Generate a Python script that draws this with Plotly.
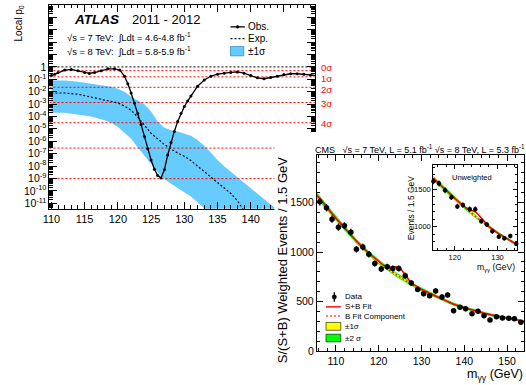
import math
import plotly.graph_objects as go

FONT = "Liberation Sans, Arial, sans-serif"
W, H = 526, 385

# ---------------- ATLAS local p0 panel ----------------
atlas_obs_mass = [110.0, 110.5, 111.0, 112.0, 113.0, 114.0, 115.0, 115.7, 116.5, 117.5, 118.5, 119.5,
                  120.3, 121.0, 121.5, 122.0, 122.5, 123.0, 123.5, 124.0, 124.5, 125.0, 125.5, 126.0,
                  126.5, 127.0, 127.5, 128.0, 128.5, 129.0, 129.5, 130.0, 130.5, 131.0, 132.0, 133.0,
                  134.0, 135.0, 136.0, 137.0, 138.0, 139.0, 140.0, 141.0, 142.0, 143.0, 144.0, 145.0,
                  146.0, 147.0, 148.0, 149.0, 150.0]
atlas_obs_log10p = [-0.70, -0.60, -0.45, -0.25, -0.20, -0.30, -0.45, -0.52, -0.45, -0.30, -0.15, -0.15,
                    -0.25, -0.75, -1.35, -2.10, -2.90, -3.75, -4.65, -5.60, -6.60, -7.50, -8.25, -8.75,
                    -8.95, -8.30, -7.10, -6.10, -5.20, -4.40, -3.75, -3.20, -2.75, -2.35, -1.55, -1.05,
                    -0.75, -0.58, -0.50, -0.44, -0.40, -0.50, -0.70, -0.88, -0.95, -0.85, -0.75, -0.62,
                    -0.55, -0.55, -0.60, -0.65, -0.70]
atlas_exp_mass = [110, 112, 114, 116, 118, 120, 121, 122, 123, 124, 125, 126, 127, 128, 129, 130, 131,
                  132, 133, 134, 135, 136, 137, 138, 139, 140, 142]
atlas_exp_log10p = [-2.10, -2.10, -2.20, -2.45, -2.70, -2.90, -3.15, -3.50, -4.05, -4.75, -5.35, -5.80,
                    -6.25, -6.60, -6.95, -7.20, -7.55, -8.00, -8.45, -8.90, -9.35, -9.80, -10.20, -10.80,
                    -11.60, -12.20, -13.00]
atlas_band_up_mass = [110, 112, 114, 116, 118, 119, 120, 121, 122, 123, 124, 125, 126, 127, 128, 129,
                      130, 131, 132, 133, 134, 135, 136, 137, 138, 139, 140, 141, 142, 143, 144, 146, 150]
atlas_band_up_log10p = [-1.10, -1.10, -1.20, -1.35, -1.50, -1.60, -1.75, -2.00, -2.40, -2.70, -3.00, -3.60,
                        -4.40, -4.90, -5.10, -5.20, -5.35, -5.55, -5.90, -6.35, -6.90, -7.50, -8.00, -8.45,
                        -8.90, -9.35, -9.80, -10.25, -10.70, -11.10, -11.50, -12.30, -13.50]
atlas_band_lo_mass = [110, 112, 114, 116, 118, 119, 120, 121, 122, 123, 124, 125, 126, 127, 128, 129,
                      130, 131, 132, 133, 134, 136, 150]
atlas_band_lo_log10p = [-3.70, -3.70, -3.85, -4.00, -4.30, -4.50, -4.85, -5.30, -5.80, -6.50, -7.20, -7.85,
                        -8.50, -9.05, -9.40, -9.75, -10.10, -10.45, -10.90, -11.40, -12.00, -13.00, -16.00]
sigma_labels = ["0σ", "1σ", "2σ", "3σ", "4σ", "5σ", "6σ"]
sigma_pvalues = [0.5, 0.1587, 0.02275, 1.350e-3, 3.167e-5, 2.867e-7, 9.866e-10]
sigma_label_shift = [3.5, -1.5, -2, -1, -1, 0, 0]
atlas_xrange = [109.7, 149.65]
atlas_ylog_range = [-11.43, 5.0]
atlas_xticks = [110, 115, 120, 125, 130, 135, 140, 145, 150]
atlas_label_decades = list(range(-11, 1))
atlas_upper_decades = list(range(1, 6))

# ---------------- CMS weighted diphoton panel ----------------
cms_mass = [106.25, 107.8, 109.1, 110.6, 112.0, 113.5, 114.8, 116.3, 117.7, 119.1, 120.6, 122.0,
            123.3, 124.7, 126.2, 127.6, 129.1, 130.5, 131.9, 133.3, 134.8, 136.1, 137.5, 139.0,
            140.3, 141.8, 143.2, 144.6, 146.0, 147.5, 148.9, 150.4, 151.7, 153.2]
cms_events = [1505, 1445, 1330, 1250, 1264, 1198, 1027, 1049, 977, 884, 829, 851,
              835, 835, 762, 688, 624, 581, 560, 609, 548, 568, 409, 445,
              428, 380, 403, 359, 317, 350, 337, 333, 329, 294]
cms_errors = [38, 38, 37, 36, 36, 35, 33, 33, 32, 31, 30, 30, 30, 30, 29, 28, 27, 26, 26, 26, 25, 25,
              24, 23, 23, 22, 22, 21, 20, 21, 20, 20, 20, 19]
cms_curve_mass = [105.55, 107.5, 110, 112.5, 115, 117.5, 120, 121, 122, 123, 124, 125, 126, 127, 128,
                  129, 130, 132.5, 135, 137.5, 140, 142.5, 145, 147.5, 150, 152.5, 153.95]
cms_bkg = [1572, 1465, 1340, 1218, 1100, 995, 900, 866, 834, 803, 774, 745, 718, 692, 668,
           645, 622, 572, 520, 475, 440, 408, 380, 356, 334, 314, 303]
cms_sb = [1572, 1465, 1340, 1218, 1100, 995, 900, 870, 850, 847, 852, 834, 783, 723, 677,
          647, 622, 572, 520, 475, 440, 408, 380, 356, 334, 314, 303]
cms_band2 = [28, 27, 26, 25, 24, 23, 22, 22, 21, 21, 21, 20, 20, 20, 19, 19, 19, 18, 17, 16, 15,
             15, 14, 14, 13, 13, 13]
cms_band1 = [14, 13, 13, 12, 12, 11, 11, 11, 11, 10, 10, 10, 10, 10, 10, 9, 9, 9, 8, 8, 8, 7, 7, 7,
             7, 6, 6]
cms_xrange = [105.55, 153.95]
cms_yrange = [0, 1980]

# inset (unweighted)
ins_mass = [115.0, 116.3, 117.7, 119.2, 120.6, 121.9, 123.5, 124.8, 126.2, 127.5, 128.8, 130.3,
            131.6, 133.0, 134.4]
ins_events = [1610, 1582, 1489, 1396, 1273, 1291, 1236, 1236, 1075, 1030, 938, 865, 845, 876, 772]
ins_errors = [40, 40, 39, 38, 36, 36, 35, 35, 33, 32, 31, 30, 29, 30, 28]
ins_curve_mass = [114.95, 117.5, 120, 122.5, 123, 124, 125, 126, 127, 128, 130, 132.5, 134.6]
ins_bkg = [1652, 1512, 1380, 1250, 1226, 1176, 1128, 1083, 1040, 998, 918, 830, 758]
ins_sb = [1652, 1512, 1381, 1258, 1246, 1224, 1193, 1131, 1060, 1002, 918, 830, 758]
ins_band2 = [30, 28, 26, 24, 24, 23, 23, 22, 22, 21, 20, 19, 18]
ins_band1 = [15, 14, 13, 12, 12, 12, 11, 11, 11, 10, 10, 9, 9]
ins_xrange = [114.95, 134.6]
ins_yrange = [687, 1824]


def xdom(a, b):
    return [a / W, b / W]


def ydom(top, bottom):
    return [1 - bottom / H, 1 - top / H]


def band_poly(xs, center, half):
    up = [c + h for c, h in zip(center, half)]
    lo = [c - h for c, h in zip(center, half)]
    return xs + xs[::-1], up + lo[::-1]


fig = go.Figure()

# ---- ATLAS traces (subplot x/y) ----
bx = atlas_band_up_mass + atlas_band_lo_mass[::-1]
by = [10 ** v for v in atlas_band_up_log10p] + [10 ** v for v in atlas_band_lo_log10p[::-1]]
fig.add_trace(go.Scatter(x=bx, y=by, fill="toself", fillcolor="#66ccff", mode="lines",
                         line=dict(width=0), xaxis="x", yaxis="y"))
for p in sigma_pvalues:
    fig.add_trace(go.Scatter(x=atlas_xrange, y=[p, p], mode="lines",
                             line=dict(color="#ff0000", width=1, dash="2px,2px"), xaxis="x", yaxis="y"))
fig.add_trace(go.Scatter(x=atlas_xrange, y=[1, 1], mode="lines",
                         line=dict(color="black", width=1, dash="2px,2px"), xaxis="x", yaxis="y"))
fig.add_trace(go.Scatter(x=atlas_exp_mass, y=[10 ** v for v in atlas_exp_log10p], mode="lines",
                         line=dict(color="black", width=1.2, dash="2px,2px"), xaxis="x", yaxis="y"))
fig.add_trace(go.Scatter(x=atlas_obs_mass, y=[10 ** v for v in atlas_obs_log10p], mode="lines+markers",
                         line=dict(color="black", width=1.3), marker=dict(size=3, color="black"),
                         xaxis="x", yaxis="y"))
# empty traces so that the overlay tick axes are created
fig.add_trace(go.Scatter(x=[None], y=[None], xaxis="x", yaxis="y5", mode="markers"))
fig.add_trace(go.Scatter(x=[None], y=[None], xaxis="x", yaxis="y6", mode="markers"))

# ---- cover (subplot x2/y2, pixel coordinates) ----
fig.add_trace(go.Scatter(x=[271, 526, 526, 271, 271], y=[134, 134, 385, 385, 134], fill="toself",
                         fillcolor="white", mode="lines", line=dict(width=0, color="white"),
                         xaxis="x2", yaxis="y2"))

# ---- CMS main (x3/y3) ----
px, py = band_poly(cms_curve_mass, cms_bkg, cms_band2)
fig.add_trace(go.Scatter(x=px, y=py, fill="toself", fillcolor="#00ff00", mode="lines",
                         line=dict(width=0), xaxis="x3", yaxis="y3"))
px, py = band_poly(cms_curve_mass, cms_bkg, cms_band1)
fig.add_trace(go.Scatter(x=px, y=py, fill="toself", fillcolor="#ffff00", mode="lines",
                         line=dict(width=0), xaxis="x3", yaxis="y3"))
fig.add_trace(go.Scatter(x=cms_curve_mass, y=cms_bkg, mode="lines",
                         line=dict(color="#ff0000", width=1.2, dash="2px,2px"), xaxis="x3", yaxis="y3"))
fig.add_trace(go.Scatter(x=cms_curve_mass, y=cms_sb, mode="lines", line=dict(color="#ff0000", width=1.6),
                         xaxis="x3", yaxis="y3"))
fig.add_trace(go.Scatter(x=cms_mass, y=cms_events, mode="markers",
                         marker=dict(size=5.5, color="black"),
                         error_y=dict(type="data", array=cms_errors, color="black", thickness=1.3, width=0),
                         xaxis="x3", yaxis="y3"))

# ---- CMS inset (x4/y4) ----
px, py = band_poly(ins_curve_mass, ins_bkg, ins_band2)
fig.add_trace(go.Scatter(x=px, y=py, fill="toself", fillcolor="#00ff00", mode="lines",
                         line=dict(width=0), xaxis="x4", yaxis="y4"))
px, py = band_poly(ins_curve_mass, ins_bkg, ins_band1)
fig.add_trace(go.Scatter(x=px, y=py, fill="toself", fillcolor="#ffff00", mode="lines",
                         line=dict(width=0), xaxis="x4", yaxis="y4"))
fig.add_trace(go.Scatter(x=ins_curve_mass, y=ins_bkg, mode="lines",
                         line=dict(color="#ff0000", width=1.2, dash="2px,2px"), xaxis="x4", yaxis="y4"))
fig.add_trace(go.Scatter(x=ins_curve_mass, y=ins_sb, mode="lines", line=dict(color="#ff0000", width=1.5),
                         xaxis="x4", yaxis="y4"))
fig.add_trace(go.Scatter(x=ins_mass, y=ins_events, mode="markers", marker=dict(size=4.5, color="black"),
                         error_y=dict(type="data", array=ins_errors, color="black", thickness=1.2, width=0),
                         cliponaxis=False, xaxis="x4", yaxis="y4"))


def axis(**kw):
    base = dict(showline=True, linecolor="black", linewidth=1, mirror="ticks", ticks="inside",
                tickcolor="black", tickwidth=1, showgrid=False, zeroline=False,
                tickfont=dict(family=FONT, color="black"))
    base.update(kw)
    return base


atlas_ticktext = ["1" if e == 0 else "10<sup>%d</sup>" % e for e in atlas_label_decades]
atlas_minor_vals = [k * 10.0 ** e for e in range(-12, 5) for k in range(2, 10)]

layout = dict(
    width=W, height=H, margin=dict(l=0, r=0, t=0, b=0),
    paper_bgcolor="white", plot_bgcolor="rgba(0,0,0,0)",
    showlegend=False, hovermode=False,
    font=dict(family=FONT, color="black"),
    xaxis=axis(domain=xdom(43, 312), range=atlas_xrange, anchor="y", tickmode="array",
               tickvals=atlas_xticks, ticklen=7, tickfont=dict(family=FONT, size=11, color="black"),
               minor=dict(ticks="inside", ticklen=3.5, dtick=1, tick0=110, tickcolor="black")),
    yaxis=axis(domain=ydom(5, 212), type="log", range=atlas_ylog_range, anchor="x", tickmode="array",
               tickvals=[10.0 ** e for e in atlas_label_decades], ticktext=atlas_ticktext, ticklen=8,
               tickfont=dict(family=FONT, size=10.5, color="black")),
    yaxis5=dict(type="log", range=atlas_ylog_range, overlaying="y", anchor="x", side="left",
                tickmode="array", tickvals=atlas_minor_vals, ticks="inside", ticklen=4,
                tickcolor="black", tickwidth=1, showticklabels=False, showline=False,
                mirror="ticks", showgrid=False, zeroline=False),
    yaxis6=dict(type="log", range=atlas_ylog_range, overlaying="y", anchor="x", side="left",
                tickmode="array", tickvals=[10.0 ** e for e in atlas_upper_decades], ticks="inside",
                ticklen=8, tickcolor="black", tickwidth=1, showticklabels=False, showline=False,
                mirror="ticks", showgrid=False, zeroline=False),
    xaxis2=dict(domain=[0, 1], range=[0, W], visible=False, anchor="y2", fixedrange=True),
    yaxis2=dict(domain=[0, 1], range=[H, 0], visible=False, anchor="x2", fixedrange=True),
    xaxis3=axis(domain=xdom(314, 524), range=cms_xrange, anchor="y3", dtick=10, tick0=110, ticklen=6,
                tickfont=dict(family=FONT, size=10.5, color="black"),
                minor=dict(ticks="inside", ticklen=3, dtick=2, tick0=110, tickcolor="black")),
    yaxis3=axis(domain=ydom(157, 357), range=cms_yrange, anchor="x3", dtick=500, tick0=0, ticklen=6,
                tickfont=dict(family=FONT, size=10.5, color="black"),
                minor=dict(ticks="inside", ticklen=3, dtick=100, tick0=0, tickcolor="black")),
    xaxis4=axis(domain=xdom(432, 517), range=ins_xrange, anchor="y4", dtick=10, tick0=120, ticklen=4,
                tickfont=dict(family=FONT, size=7.5, color="black"),
                minor=dict(ticks="inside", ticklen=2, dtick=2, tick0=120, tickcolor="black")),
    yaxis4=axis(domain=ydom(168, 254), range=ins_yrange, anchor="x4", dtick=500, tick0=0, ticklen=4,
                tickfont=dict(family=FONT, size=7.5, color="black"),
                minor=dict(ticks="inside", ticklen=2, dtick=100, tick0=0, tickcolor="black")),
)
fig.update_layout(**layout)


def txt(x, y, s, size, xanchor="left", yanchor="middle", color="black", angle=0):
    return dict(x=x, y=y, xref="x2", yref="y2", text=s, showarrow=False, xanchor=xanchor,
                yanchor=yanchor, textangle=angle, borderpad=0,
                font=dict(family=FONT, size=size, color=color))


ann = []
# ATLAS texts
ann.append(txt(12, 24, "Local p<sub>0</sub>", 10, xanchor="center", angle=-90))
ann.append(txt(67, 20, "<b><i>ATLAS</i></b>", 13.5))
ann.append(txt(126, 20, "2011 - 2012", 13))
ann.append(txt(60, 38, "√s = 7 TeV:  ∫Ldt = 4.6-4.8 fb<sup>-1</sup>", 9.4))
ann.append(txt(60, 52, "√s = 8 TeV:  ∫Ldt = 5.8-5.9 fb<sup>-1</sup>", 9.4))
ann.append(txt(243, 27, "Obs.", 10))
ann.append(txt(243, 39, "Exp.", 10))
ann.append(txt(243, 52, "±1σ", 10))
for lab, p, sh in zip(sigma_labels[:5], sigma_pvalues[:5], sigma_label_shift[:5]):
    ann.append(dict(x=atlas_xrange[1], y=math.log10(p), xref="x", yref="y", text=lab, showarrow=False,
                    xanchor="left", yanchor="middle", xshift=5, yshift=sh, borderpad=0,
                    font=dict(family=FONT, size=9.5, color="#ff0000")))
# CMS texts
ann.append(txt(311, 151, "CMS   √s = 7 TeV, L = 5.1 fb<sup>-1</sup> √s = 8 TeV, L = 5.3 fb<sup>-1</sup>", 9))
ann.append(txt(280, 264, "S/(S+B) Weighted Events / 1.5 GeV", 13, xanchor="center", angle=-90))
ann.append(txt(524, 380.5, "m<sub>γγ</sub> (GeV)", 12.5, xanchor="right"))
ann.append(txt(409, 211, "Events / 1.5 GeV", 8.5, xanchor="center", angle=-90))
ann.append(txt(516, 271.5, "m<sub>γγ</sub> (GeV)", 8.5, xanchor="right"))
ann.append(txt(471, 180, "Unweighted", 7.5, xanchor="center"))
ann.append(txt(342, 301.5, "Data", 8))
ann.append(txt(342, 311.5, "S+B Fit", 8))
ann.append(txt(342, 321, "B Fit Component", 8))
ann.append(txt(342, 331.5, "±1σ", 8))
ann.append(txt(342, 343.5, "±2 σ", 8))
fig.update_layout(annotations=ann)

shapes = []


def ln(x0, y0, x1, y1, color="black", width=1, dash="solid"):
    return dict(type="line", xref="x2", yref="y2", x0=x0, y0=y0, x1=x1, y1=y1, layer="above",
                line=dict(color=color, width=width, dash=dash))


def rect(x0, y0, x1, y1, fill, lc="black", lw=0.6):
    return dict(type="rect", xref="x2", yref="y2", x0=x0, y0=y0, x1=x1, y1=y1, layer="above",
                fillcolor=fill, line=dict(color=lc, width=lw))


# ATLAS legend symbols
shapes.append(ln(226.5, 27.3, 241, 27.3, width=1.3))
shapes.append(dict(type="circle", xref="x2", yref="y2", x0=232.3, y0=26, x1=235, y1=28.7, layer="above",
                   fillcolor="black", line=dict(color="black", width=0.5)))
shapes.append(ln(226.5, 39.3, 241, 39.3, width=1.2, dash="2px,2px"))
shapes.append(rect(226.5, 47.3, 240, 56.7, "#66ccff", lc="#3a8fc0", lw=0.8))
# CMS legend symbols
shapes.append(ln(331.7, 297, 331.7, 306.5, width=1.3))
shapes.append(dict(type="circle", xref="x2", yref="y2", x0=329.5, y0=299.5, x1=333.9, y1=303.9,
                   layer="above", fillcolor="black", line=dict(color="black", width=0.5)))
shapes.append(ln(323.3, 311.7, 338.3, 311.7, color="#ff0000", width=1.4))
shapes.append(ln(323.3, 321, 338.3, 321, color="#ff0000", width=1.2, dash="2px,2px"))
shapes.append(rect(323.3, 327.5, 338.3, 335.5, "#ffff00"))
shapes.append(rect(323.3, 339.5, 338.3, 347.3, "#00ff00"))
fig.update_layout(shapes=shapes)

fig.write_html("out.html")
